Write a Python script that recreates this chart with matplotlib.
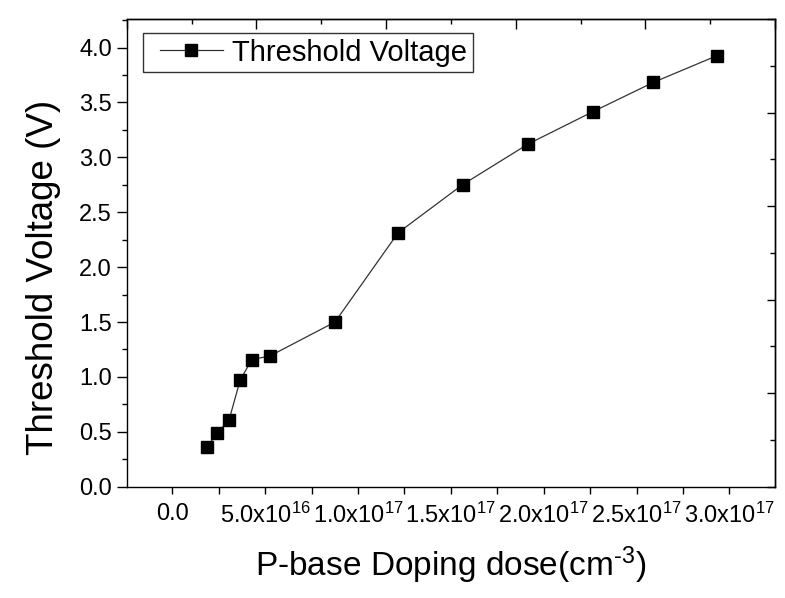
import numpy as np
import matplotlib
matplotlib.use("Agg")
import matplotlib.pyplot as plt
from matplotlib.ticker import MultipleLocator, FuncFormatter, FixedLocator, NullFormatter
from matplotlib.legend_handler import HandlerLine2D
from matplotlib.lines import Line2D

plt.rcParams['font.family'] = ['Liberation Sans', 'DejaVu Sans']
plt.rcParams['mathtext.fontset'] = 'custom'
plt.rcParams['mathtext.rm'] = 'Liberation Sans'
plt.rcParams['mathtext.default'] = 'regular'

# Data
doping = [1.85e16, 2.39e16, 3.05e16, 3.65e16, 4.28e16, 5.26e16, 8.76e16,
          1.216e17, 1.564e17, 1.917e17, 2.264e17, 2.59e17, 2.932e17]
vth = [0.358, 0.485, 0.606, 0.970, 1.158, 1.191, 1.50,
       2.313, 2.752, 3.122, 3.415, 3.682, 3.925]
series_label = "Threshold Voltage"
xlabel = "P-base Doping dose(cm$^{\\text{-}3}$)"
ylabel = "Threshold Voltage (V)"

W, H = 785, 598
fig = plt.figure(figsize=(W / 100, H / 100), dpi=100)
L, R, T, B = 126.7, 775.0, 19.0, 486.7
ax = fig.add_axes([L / W, 1 - B / H, (R - L) / W, (B - T) / H])

xlim = (-2.46e16, 3.246e17)
ylim = (0.0, 4.26)

line, = ax.plot(doping, vth, color='#333333', lw=0.9, marker='s', markersize=8.5,
                markerfacecolor='black', markeredgecolor='black', label=series_label)

ax.set_xlim(*xlim)
ax.set_ylim(*ylim)

def xfmt(v, pos):
    if abs(v) < 1e10:
        return "0.0"
    e = int(np.floor(np.log10(abs(v)) + 1e-9))
    m = v / 10 ** e
    return "%.1fx10$^{%d}$" % (m, e)

ax.xaxis.set_major_locator(FixedLocator(np.arange(0, 3.01e17, 5e16)))
ax.xaxis.set_minor_locator(FixedLocator(np.arange(-2.5e16, 3.3e17, 5e16)))
ax.xaxis.set_major_formatter(FuncFormatter(xfmt))
ax.yaxis.set_major_locator(MultipleLocator(0.5))
ax.yaxis.set_minor_locator(MultipleLocator(0.25))
ax.yaxis.set_major_formatter(FuncFormatter(lambda v, p: "%.1f" % v))

ax.tick_params(axis='x', which='both', direction='out', length=4.7, width=1.0,
               labelsize=17, pad=7)
ax.tick_params(axis='y', which='major', direction='out', length=7, width=1.0,
               labelsize=17, pad=3.5)
ax.tick_params(axis='y', which='minor', direction='out', length=3.5, width=1.0)
ax.tick_params(top=False, right=False)

for s in ax.spines.values():
    s.set_linewidth(1.0)

# Top and right axes with their own fractional tick scale
x0, x1 = xlim
secx = ax.secondary_xaxis('top', functions=(lambda x: (x - x0) / (x1 - x0),
                                            lambda f: x0 + f * (x1 - x0)))
secx.xaxis.set_major_locator(FixedLocator(np.arange(0, 1.001, 0.2)))
secx.xaxis.set_minor_locator(FixedLocator(np.arange(0.1, 1.0, 0.2)))
secx.xaxis.set_major_formatter(NullFormatter())
secx.tick_params(which='major', direction='in', length=7, width=1.0)
secx.tick_params(which='minor', direction='in', length=3.5, width=1.0)

y0, y1 = ylim
secy = ax.secondary_yaxis('right', functions=(lambda y: (y - y0) / (y1 - y0),
                                              lambda f: y0 + f * (y1 - y0)))
secy.yaxis.set_major_locator(FixedLocator(np.arange(0, 1.001, 0.2)))
secy.yaxis.set_minor_locator(FixedLocator(np.arange(0.1, 1.0, 0.2)))
secy.yaxis.set_major_formatter(NullFormatter())
secy.tick_params(which='major', direction='in', length=6, width=1.0)
secy.tick_params(which='minor', direction='in', length=3.5, width=1.0)
for sa in (secx, secy):
    for s in sa.spines.values():
        s.set_linewidth(1.0)

ax.set_xlabel(xlabel, fontsize=24, labelpad=12)
ax.set_ylabel(ylabel, fontsize=26.5)
ax.yaxis.set_label_coords(-0.101, 0.447)

leg = ax.legend(handles=[line], loc='upper left', bbox_to_anchor=(0.025, 0.9707),
                borderaxespad=0, fontsize=21, frameon=True, fancybox=False,
                handlelength=2.53, handletextpad=0.34, borderpad=0.2,
                handler_map={Line2D: HandlerLine2D(xpad=0.377)})
leg.get_frame().set_edgecolor('black')
leg.get_frame().set_linewidth(1.0)

fig.savefig("out.png", dpi=100)
